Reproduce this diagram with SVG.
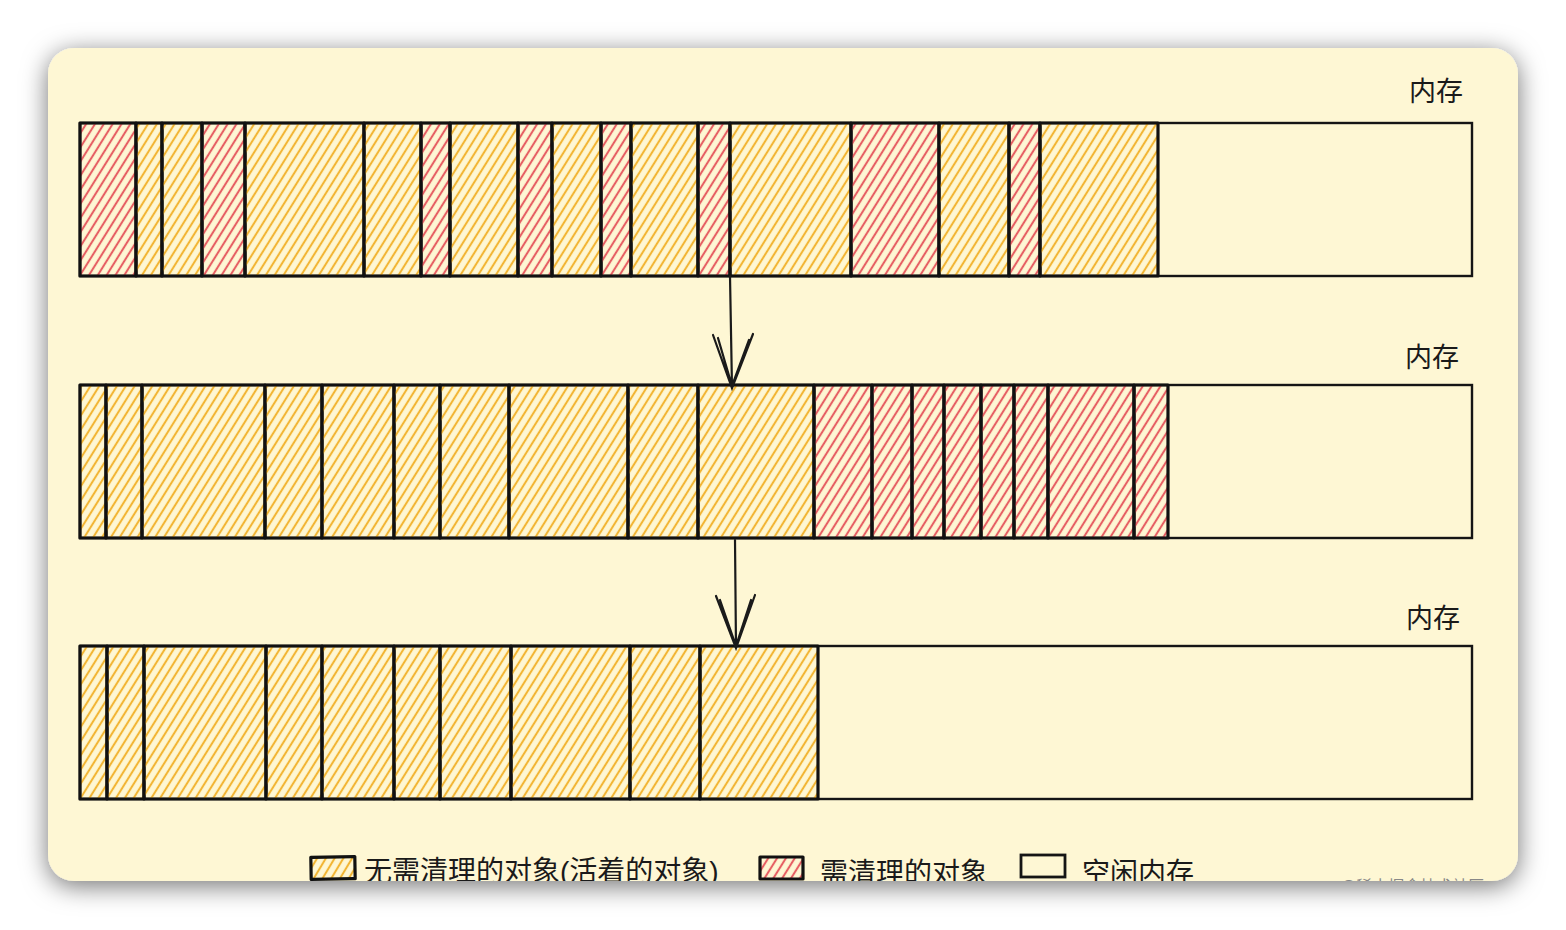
<svg xmlns="http://www.w3.org/2000/svg" width="1566" height="930" viewBox="0 0 1566 930">
<defs>
<filter id="sh" x="-10%" y="-10%" width="120%" height="125%">
<feDropShadow dx="0" dy="5" stdDeviation="13" flood-color="#000" flood-opacity="0.55"/>
</filter>
<clipPath id="card"><rect x="48" y="48" width="1470" height="833" rx="26"/></clipPath>
<pattern id="hy" patternUnits="userSpaceOnUse" width="7.5" height="7.5" patternTransform="rotate(32)">
<line x1="3.75" y1="-1" x2="3.75" y2="8.5" stroke="#f2b534" stroke-width="2.1"/>
</pattern>
<pattern id="hr" patternUnits="userSpaceOnUse" width="7.5" height="7.5" patternTransform="rotate(32)">
<line x1="3.75" y1="-1" x2="3.75" y2="8.5" stroke="#e65f63" stroke-width="2.1"/>
</pattern>
<style>
.y{fill:url(#hy);stroke:#111;stroke-width:3.2;stroke-linejoin:round}
.r{fill:url(#hr);stroke:#111;stroke-width:3.2;stroke-linejoin:round}
.mem{fill:none;stroke:#151515;stroke-width:2.4}
.lbl{font-family:"Liberation Sans","Noto Sans CJK SC",sans-serif;font-size:27px;fill:#1a1a1a}
.lg{font-family:"Liberation Sans","Noto Sans CJK SC",sans-serif;font-size:28px;fill:#1a1a1a}
.ar{fill:none;stroke:#1a1a1a;stroke-width:2.2;stroke-linecap:round}
</style>
</defs>
<rect width="1566" height="930" fill="#ffffff"/>
<rect x="48" y="48" width="1470" height="833" rx="26" fill="#fef7d4" filter="url(#sh)"/>
<g clip-path="url(#card)">
<g id="row1">
<rect class="mem" x="80" y="123" width="1392" height="153"/>
<g id="r1b1"><rect class="r" x="80" y="123" width="56" height="153"/></g>
<g id="r1b2"><rect class="y" x="136" y="123" width="26" height="153"/></g>
<g id="r1b3"><rect class="y" x="162" y="123" width="40" height="153"/></g>
<g id="r1b4"><rect class="r" x="202" y="123" width="43" height="153"/></g>
<g id="r1b5"><rect class="y" x="245" y="123" width="119" height="153"/></g>
<g id="r1b6"><rect class="y" x="364" y="123" width="57" height="153"/></g>
<g id="r1b7"><rect class="r" x="421" y="123" width="29" height="153"/></g>
<g id="r1b8"><rect class="y" x="450" y="123" width="68" height="153"/></g>
<g id="r1b9"><rect class="r" x="518" y="123" width="34" height="153"/></g>
<g id="r1b10"><rect class="y" x="552" y="123" width="49" height="153"/></g>
<g id="r1b11"><rect class="r" x="601" y="123" width="30" height="153"/></g>
<g id="r1b12"><rect class="y" x="631" y="123" width="67" height="153"/></g>
<g id="r1b13"><rect class="r" x="698" y="123" width="32" height="153"/></g>
<g id="r1b14"><rect class="y" x="730" y="123" width="121" height="153"/></g>
<g id="r1b15"><rect class="r" x="851" y="123" width="88" height="153"/></g>
<g id="r1b16"><rect class="y" x="939" y="123" width="70" height="153"/></g>
<g id="r1b17"><rect class="r" x="1009" y="123" width="31" height="153"/></g>
<g id="r1b18"><rect class="y" x="1040" y="123" width="118" height="153"/></g>
<text class="lbl" x="1436" y="101" text-anchor="middle">内存</text>
</g>
<g id="row2">
<rect class="mem" x="80" y="385" width="1392" height="153"/>
<g id="r2b1"><rect class="y" x="80" y="385" width="26" height="153"/></g>
<g id="r2b2"><rect class="y" x="106" y="385" width="36" height="153"/></g>
<g id="r2b3"><rect class="y" x="142" y="385" width="123" height="153"/></g>
<g id="r2b4"><rect class="y" x="265" y="385" width="57" height="153"/></g>
<g id="r2b5"><rect class="y" x="322" y="385" width="72" height="153"/></g>
<g id="r2b6"><rect class="y" x="394" y="385" width="46" height="153"/></g>
<g id="r2b7"><rect class="y" x="440" y="385" width="69" height="153"/></g>
<g id="r2b8"><rect class="y" x="509" y="385" width="119" height="153"/></g>
<g id="r2b9"><rect class="y" x="628" y="385" width="70" height="153"/></g>
<g id="r2b10"><rect class="y" x="698" y="385" width="116" height="153"/></g>
<g id="r2b11"><rect class="r" x="814" y="385" width="58" height="153"/></g>
<g id="r2b12"><rect class="r" x="872" y="385" width="40" height="153"/></g>
<g id="r2b13"><rect class="r" x="912" y="385" width="32" height="153"/></g>
<g id="r2b14"><rect class="r" x="944" y="385" width="37" height="153"/></g>
<g id="r2b15"><rect class="r" x="981" y="385" width="33" height="153"/></g>
<g id="r2b16"><rect class="r" x="1014" y="385" width="34" height="153"/></g>
<g id="r2b17"><rect class="r" x="1048" y="385" width="86" height="153"/></g>
<g id="r2b18"><rect class="r" x="1134" y="385" width="34" height="153"/></g>
<text class="lbl" x="1432" y="367" text-anchor="middle">内存</text>
</g>
<g id="row3">
<rect class="mem" x="80" y="646" width="1392" height="153"/>
<g id="r3b1"><rect class="y" x="80" y="646" width="27" height="153"/></g>
<g id="r3b2"><rect class="y" x="107" y="646" width="37" height="153"/></g>
<g id="r3b3"><rect class="y" x="144" y="646" width="122" height="153"/></g>
<g id="r3b4"><rect class="y" x="266" y="646" width="56" height="153"/></g>
<g id="r3b5"><rect class="y" x="322" y="646" width="72" height="153"/></g>
<g id="r3b6"><rect class="y" x="394" y="646" width="46" height="153"/></g>
<g id="r3b7"><rect class="y" x="440" y="646" width="71" height="153"/></g>
<g id="r3b8"><rect class="y" x="511" y="646" width="119" height="153"/></g>
<g id="r3b9"><rect class="y" x="630" y="646" width="70" height="153"/></g>
<g id="r3b10"><rect class="y" x="700" y="646" width="118" height="153"/></g>
<text class="lbl" x="1433" y="628" text-anchor="middle">内存</text>
</g>
<g id="connectors">
<path class="ar" d="M730 276 L732 388 M713 335 L732 388 L753 334 M718 338 L732 386 L749 340"/>
<path class="ar" d="M735 540 L736 648 M716 596 L736 648 L755 595 M720 600 L736 646 L751 600"/>
</g>
<g id="legend">
<g id="lg1"><rect class="y" x="311" y="857" width="44" height="22" transform="rotate(-1 333 868)"/><text class="lg" x="364" y="881">无需清理的对象(活着的对象)</text></g>
<g id="lg2"><rect class="r" x="760" y="857" width="43" height="22"/><text class="lg" x="820" y="883">需清理的对象</text></g>
<g id="lg3"><rect fill="none" stroke="#151515" stroke-width="2.8" x="1021" y="855" width="44" height="22"/><text class="lg" x="1082" y="883">空闲内存</text></g>
</g>
<text x="1340" y="892" font-family="Liberation Sans,Noto Sans CJK SC,sans-serif" font-size="16" fill="#888">@稀土掘金技术社区</text>
</g>
</svg>
